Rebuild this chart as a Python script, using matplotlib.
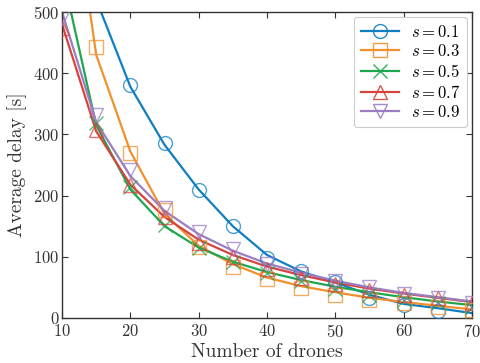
import matplotlib
matplotlib.use("Agg")
import matplotlib.pyplot as plt
from matplotlib.colors import to_rgba
from matplotlib.lines import Line2D

plt.rcParams['font.family'] = 'serif'
plt.rcParams['font.serif'] = ['cmr10', 'DejaVu Serif']
plt.rcParams['mathtext.fontset'] = 'cm'
plt.rcParams['axes.formatter.use_mathtext'] = True

drones = [10, 15, 20, 25, 30, 35, 40, 45, 50, 55, 60, 65, 70]
s_labels = ['$s = 0.1$', '$s = 0.3$', '$s = 0.5$', '$s = 0.7$', '$s = 0.9$']

# analytical curves (lines)
line_s01 = [1000, 520, 378, 283, 210, 150, 103, 76, 58, 38, 23, 16, 8]
line_s03 = [819, 430, 272, 170, 118, 88, 66, 52, 42, 33, 26, 20, 14]
line_s05 = [565, 315, 210, 150, 115, 92, 75, 62, 51, 42, 34, 27, 21]
line_s07 = [480, 305, 218, 165, 128, 103, 84, 70, 58, 48, 40, 33, 26]
line_s09 = [500, 320, 232, 175, 137, 110, 89, 74, 61, 50, 41, 34, 27]

# simulation results (markers)
sim_s01 = [1000, 600, 381, 286, 209, 150, 98, 77, 59, 33, 21, 11, 3]
sim_s03 = [900, 443, 270, 176, 116, 84, 64, 49, 38, 29, 25, 18, 13]
sim_s05 = [600, 318, 214, 152, 114, 92, 74, 60, 48, 38, 30, 24, 18]
sim_s07 = [474, 307, 217, 165, 122, 100, 80, 66, 55, 46, 38, 32, 25]
sim_s09 = [490, 332, 242, 180, 140, 113, 88, 72, 60, 50, 40, 32, 25]

lines = [line_s01, line_s03, line_s05, line_s07, line_s09]
sims = [sim_s01, sim_s03, sim_s05, sim_s07, sim_s09]
colors = ['#0f7fc0', '#f0902e', '#1fa64f', '#d6443e', '#9b7dc2']
markers = ['o', 's', 'x', '^', 'v']

fig = plt.figure(figsize=(4.81, 3.63), dpi=100)
ax = fig.add_axes([0.129, 0.124, 0.852, 0.843])

handles = []
for ln, sm, c, m, lab in zip(lines, sims, colors, markers, s_labels):
    ax.plot(drones, ln, color=c, lw=1.6, zorder=2)
    ax.plot(drones, sm, ls='none', marker=m, ms=10, mfc='none',
            mec=to_rgba(c, 0.75), mew=1.0, zorder=3)
    handles.append(Line2D([], [], color=c, lw=1.6, marker=m, ms=10, mfc='none',
                          mec=to_rgba(c, 0.9), mew=1.0))

ax.set_xlim(10, 70)
ax.set_ylim(0, 500)
ax.set_xticks([10, 20, 30, 40, 50, 60, 70])
ax.set_yticks([0, 100, 200, 300, 400, 500])
ax.tick_params(direction='in', top=True, right=True, labelsize=12, length=4,
               colors='#333333', labelcolor='#333333')
ax.tick_params(axis='y', pad=2)
for sp in ax.spines.values():
    sp.set_color('#333333')
    sp.set_linewidth(1.0)
ax.set_xlabel('Number of drones', fontsize=14, color='#333333', labelpad=2)
ax.set_ylabel('Average delay [s]', fontsize=14, color='#333333', labelpad=4)

leg = ax.legend(handles, s_labels, loc='upper right', fontsize=12,
                handlelength=2.3, framealpha=1, edgecolor='#cccccc',
                borderaxespad=0.3, labelspacing=0.22, borderpad=0.4,
                handletextpad=0.7)
leg.get_frame().set_linewidth(0.8)

fig.savefig('out.png', dpi=100)
